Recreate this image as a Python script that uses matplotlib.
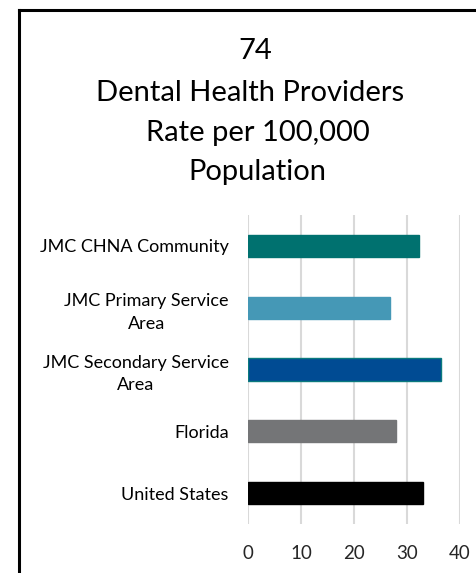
import matplotlib
matplotlib.use("Agg")
import matplotlib.pyplot as plt
from matplotlib.lines import Line2D

categories = ["JMC CHNA Community", "JMC Primary Service\nArea",
              "JMC Secondary Service\nArea", "Florida", "United States"]
values = [32.3, 26.8, 36.4, 28.0, 33.1]
colors = ["#00716F", "#4598B6", "#004B93", "#747577", "#000000"]
edges = ["#00716F", "#4598B6", "#0B7A7E", "#747577", "#000000"]
xticks = [0, 10, 20, 30, 40]
title_lines = ["74", "Dental Health Providers", "Rate per 100,000", "Population"]

plt.rcParams['font.family'] = ['Lato', 'DejaVu Sans']

W, H = 477, 573
fig = plt.figure(figsize=(W/100, H/100), dpi=100)
ax = fig.add_axes([248.3/W, 1-524/H, (460-248.3)/W, 309/H])

ypos = list(range(len(categories)))
ax.barh(ypos, values, height=0.36, color=colors, edgecolor=edges, linewidth=1, zorder=3)
ax.set_ylim(len(categories)-0.5, -0.5)
ax.set_xlim(0, 40)
ax.set_xticks(xticks)
ax.set_xticklabels([str(t) for t in xticks], fontsize=13.5, color="#262626")
ax.set_yticks(ypos)
ax.set_yticklabels(categories, fontsize=13, color="#000000", ha="right",
                   multialignment="center", linespacing=1.5)
ax.tick_params(axis="y", length=0, pad=14)
ax.tick_params(axis="x", length=0, pad=15)
ax.grid(axis="x", color="#D9D9D9", linewidth=1.5, zorder=0)
for s in ax.spines.values():
    s.set_visible(False)

title_x = [255, 250, 258, 257]
title_base = [59, 101, 141, 180]
for txt, x, y in zip(title_lines, title_x, title_base):
    fig.text(x/W, 1-y/H, txt, ha="center", va="baseline", fontsize=21)

fig.add_artist(Line2D([19/W, 19/W], [0, 1-10/H], color="black", linewidth=2.2, transform=fig.transFigure))
fig.add_artist(Line2D([19/W, 1], [1-10/H, 1-10/H], color="black", linewidth=2.2, transform=fig.transFigure))

fig.savefig("out.png", dpi=100)
